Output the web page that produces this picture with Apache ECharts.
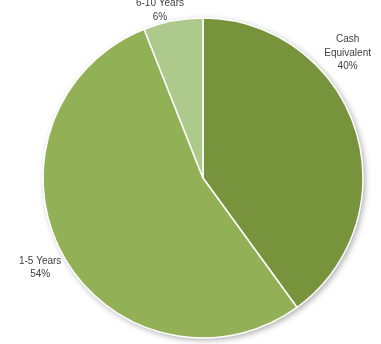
<!DOCTYPE html>
<html><head><meta charset="utf-8">
<script src="https://cdn.jsdelivr.net/npm/echarts@6/dist/echarts.min.js"></script>
<style>html,body{margin:0;padding:0;background:#fff}#c{width:381px;height:344px}</style>
</head><body><div id="c"></div>
<script>
const categories = ['Cash\nEquivalent', '1-5 Years', '6-10 Years'];
const values = [40, 54, 6];
const colors = ['#77933C', '#92B156', '#AEC98C'];
const labelOffsets = [[-18, -72], [-13, 7.5], [-11, 0]];

const CX = 203, CY = 178, R = 160, GAP = 11;
const total = values.reduce((a, b) => a + b, 0);
const midAngles = [];
let acc = 0;
values.forEach(v => { midAngles.push((acc + v / 2) / total * 2 * Math.PI); acc += v; });

const chart = echarts.init(document.getElementById('c'), null, {renderer: 'canvas'});
chart.setOption({
  animation: false,
  series: [
    {
      type: 'pie', silent: true, center: [CX, CY], radius: R, z: 1,
      label: {show: false}, labelLine: {show: false},
      itemStyle: {color: '#fff', shadowBlur: 6, shadowColor: 'rgba(0,0,0,0.35)', shadowOffsetX: 2, shadowOffsetY: 2},
      data: [{value: 1}]
    },
    {
      type: 'pie', center: [CX, CY], radius: R, startAngle: 90, clockwise: true, z: 2,
      itemStyle: {borderColor: '#fff', borderWidth: 1.5},
      label: {
        show: true, position: 'outside', color: '#404040', overflow: 'none',
        fontFamily: 'Liberation Sans', fontSize: 10, lineHeight: 13.5,
        formatter: p => p.name + '\n' + p.percent.toFixed(0) + '%'
      },
      labelLine: {show: false, length: 4, length2: 0},
      labelLayout: p => {
        const a = midAngles[p.dataIndex], o = labelOffsets[p.dataIndex];
        return {
          x: CX + (R + GAP) * Math.sin(a) + o[0],
          y: CY - (R + GAP) * Math.cos(a) + o[1],
          align: 'center', verticalAlign: 'middle', hideOverlap: false
        };
      },
      data: categories.map((c, i) => ({
        name: c, value: values[i], itemStyle: {color: colors[i]}
      }))
    }
  ]
});
</script></body></html>
